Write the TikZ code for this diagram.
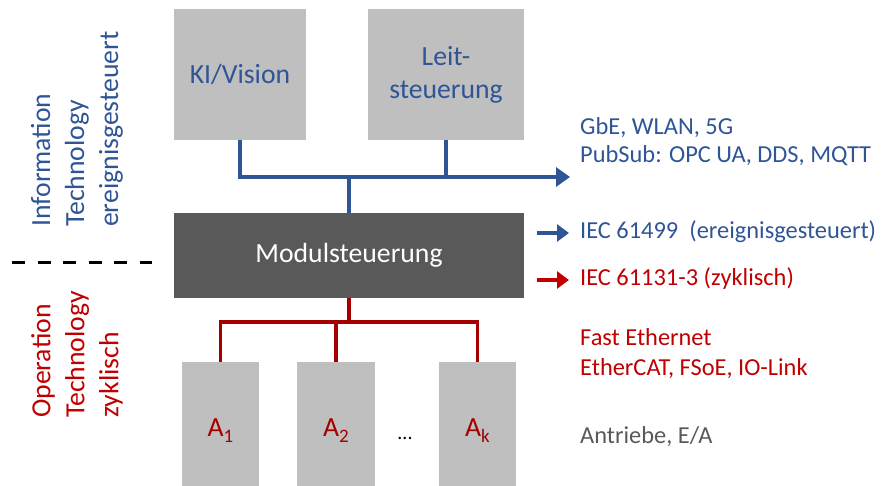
\documentclass[tikz,border=0pt]{standalone}
\usepackage{fontspec}
\setmainfont{Carlito}
\usetikzlibrary{arrows.meta}
\definecolor{itblue}{HTML}{2F5597}
\definecolor{otred}{HTML}{C00000}
\definecolor{otline}{HTML}{A50000}
\definecolor{boxgray}{HTML}{BFBFBF}
\definecolor{modgray}{HTML}{595959}
\definecolor{txtgray}{HTML}{595959}
\newcommand{\asub}[1]{A\raisebox{-6pt}{\fontsize{19}{20}\selectfont #1}}
\begin{document}
\begin{tikzpicture}[x=1pt,y=-1pt,
  gbox/.style={rectangle, fill=boxgray, inner sep=0pt, align=center,
    font=\fontsize{27.7}{33}\selectfont},
  side/.style={rotate=90, anchor=west, inner sep=0pt, align=left,
    font=\fontsize{27.7}{34}\selectfont},
  info/.style={anchor=base west, inner sep=0pt, font=\fontsize{24.4}{29}\selectfont},
  bbus/.style={draw=itblue, line width=3.3pt},
  rbus/.style={draw=otline, line width=3.8pt},
  bigtip/.style={-{Triangle[length=14pt,width=19pt]}},
  tip/.style={-{Triangle[length=12pt,width=17pt]}}
]
\useasboundingbox (0,0) rectangle (881,486);
\clip (0,0) rectangle (881,486);

% upper boxes
\node[gbox, text=itblue, minimum width=132pt, minimum height=131pt] (ki) at (240,74.5) {KI/Vision};
\node[gbox, text=itblue, minimum width=156pt, minimum height=131pt] (leit) at (446,74.5) {Leit-\\steuerung};

% module controller
\node[rectangle, fill=modgray, text=white, inner sep=0pt, minimum width=350pt, minimum height=85pt,
  font=\fontsize{27.7}{33}\selectfont] (modul) at (349,255.5) {Modulsteuerung};

% lower boxes
\node[gbox, text=otline, minimum width=77pt, minimum height=138pt] (a1) at (220.5,431) {\asub{1}};
\node[gbox, text=otline, minimum width=78pt, minimum height=138pt] (a2) at (336,431) {\asub{2}};
\node[gbox, text=otline, minimum width=77pt, minimum height=138pt] (ak) at (477.5,431) {\asub{k}};
\node[inner sep=0pt, font=\fontsize{20}{24}\selectfont] (dots) at (405,438) {...};

% side labels
\node[side, text=itblue] (itlab) at (77,227) {Information\\Technology\\ereignisgesteuert};
\node[side, text=otred] (otlab) at (77,418) {Operation\\Technology\\zyklisch};
\coordinate (dl) at (12,263);
\coordinate (dr) at (152,263);
\draw[line width=3pt, dash pattern=on 13pt off 12.5pt] (dl) -- (dr);

% blue bus
\coordinate (busR) at (570,177);
\draw[bbus, bigtip] (ki.south) |- (busR);
\draw[bbus] (leit.south) -- (leit.south |- busR);
\draw[bbus] (modul.north) -- (modul.north |- busR);

% red bus
\coordinate (rj) at (349,322);
\draw[rbus] (modul.south) -- (rj);
\draw[rbus] (a1.north) |- (rj) -| (ak.north);
\draw[rbus] (a2.north) -- (a2.north |- rj);

% legend arrows
\coordinate (b1) at (537,233);
\coordinate (b2) at (569,233);
\coordinate (r1) at (537,280);
\coordinate (r2) at (569,280);
\draw[bbus, tip] (b1) -- (b2);
\draw[draw=otred, line width=3.3pt, tip] (r1) -- (r2);

% texts
\node[info, text=itblue] (g1) at (580,135) {GbE, WLAN, 5G};
\node[info, text=itblue] (g2) at (580,163) {PubSub: OPC UA, DDS, MQTT};
\node[info, text=itblue] (iec1) at (580,239) {IEC 61499\ \ (ereignisgesteuert)};
\node[info, text=otred] (iec2) at (580,286) {IEC 61131-3 (zyklisch)};
\node[info, text=otred] (fe) at (580,345) {Fast Ethernet};
\node[info, text=otred] (ec) at (580,375) {EtherCAT, FSoE, IO-Link};
\node[info, text=txtgray] (an) at (580,443) {Antriebe, E/A};
\end{tikzpicture}
\end{document}
